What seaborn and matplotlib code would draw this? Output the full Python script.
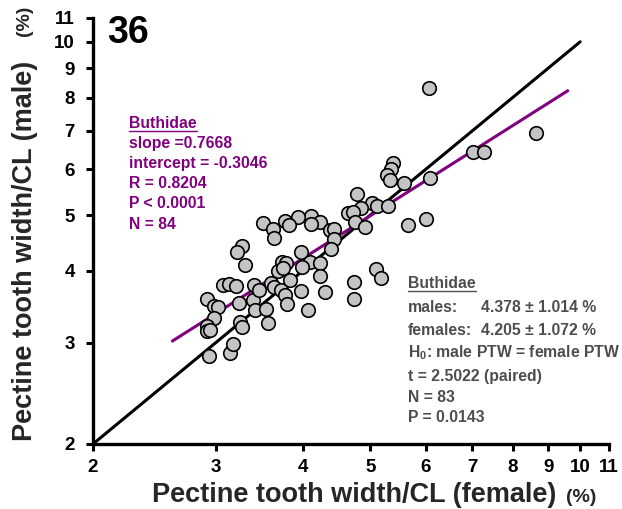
import numpy as np
import pandas as pd
import seaborn as sns
import matplotlib
matplotlib.use("Agg")
import matplotlib.pyplot as plt
from matplotlib.lines import Line2D

# Pectine tooth width / carapace length (%), one pair per specimen
female_ptw = [6.07, 8.64, 7.02, 7.28, 5.38, 5.35, 5.29, 5.33, 5.58, 6.08,
              4.79, 5.02, 5.11, 5.30, 4.84, 4.65, 4.72, 4.75, 4.91, 5.66,
              6.00, 4.11, 4.24, 4.11, 4.37, 4.44, 4.44, 4.39, 3.94, 3.51,
              3.63, 3.64, 3.77, 3.82, 3.27, 3.22, 3.98, 3.73, 3.78, 4.09,
              3.99, 4.24, 4.23, 3.98, 4.31, 4.07, 4.74, 4.74, 5.10, 5.18,
              2.91, 2.98, 3.02, 2.98, 2.91, 2.91, 2.94, 2.93, 3.14, 3.18,
              3.25, 3.27, 3.24, 3.07, 3.13, 3.21, 3.30, 3.40, 3.39, 3.46,
              3.41, 3.54, 3.57, 3.60, 3.64, 3.69, 3.75, 3.72, 3.77, 3.80,
              3.84]
male_ptw = [8.32, 6.93, 6.43, 6.43, 6.16, 6.02, 5.86, 5.75, 5.68, 5.81,
            5.44, 5.25, 5.19, 5.19, 5.15, 5.04, 5.06, 4.87, 4.77, 4.80,
            4.92, 4.98, 4.86, 4.82, 4.70, 4.72, 4.55, 4.36, 4.96, 4.84,
            4.72, 4.56, 4.88, 4.81, 4.41, 4.32, 4.31, 4.15, 4.12, 4.14,
            4.06, 4.12, 3.91, 3.69, 3.68, 3.42, 3.83, 3.58, 4.03, 3.88,
            3.57, 3.48, 3.46, 3.31, 3.21, 3.14, 3.15, 2.84, 2.88, 2.98,
            3.26, 3.20, 3.52, 3.78, 3.79, 3.77, 4.10, 3.78, 3.56, 3.70,
            3.42, 3.43, 3.24, 3.81, 3.75, 4.00, 4.04, 3.70, 3.63, 3.50,
            3.85]

tick_values = [2, 3, 4, 5, 6, 7, 8, 9, 10, 11]
tick_labels = ["2", "3", "4", "5", "6", "7", "8", "9", "10", "11"]

# reduced major axis fit on log10 of the proportions
slope = 0.7668
intercept = -0.3046
fit_range = [2.6, 9.6]
identity_range = [2, 10]

regression_lines = ["Buthidae", "slope =0.7668", "intercept = -0.3046",
                    "R = 0.8204", "P < 0.0001", "N = 84"]
ttest_title = "Buthidae"
ttest_groups = ["males:", "females:"]
ttest_means = ["4.378 \u00b1 1.014 %", "4.205 \u00b1 1.072 %"]
ttest_lines = [r"H$_\mathregular{0}$: male PTW = female PTW",
               "t = 2.5022 (paired)", "N = 83", "P = 0.0143"]

sns.set_theme(style="white")
plt.rcParams["font.family"] = ["Liberation Sans", "DejaVu Sans"]
plt.rcParams["mathtext.default"] = "regular"

W, H = 622, 509
fig = plt.figure(figsize=(W / 100, H / 100), dpi=100)
ax = fig.add_axes([93 / W, 1 - 444 / H, (609 - 93) / W, (444 - 18) / H])
ax.set_xscale("log")
ax.set_yscale("log")

purple = "#800080"
grey_text = "#4d4d4d"

df = pd.DataFrame({"female": female_ptw, "male": male_ptw})
fit_x = np.array(fit_range, dtype=float)
fit_y = 100 * 10 ** (slope * np.log10(fit_x / 100) + intercept)

sns.lineplot(x=identity_range, y=identity_range, color="black", lw=2.2,
             ax=ax, zorder=2)
sns.lineplot(x=fit_x, y=fit_y, color=purple, lw=2.2, ax=ax, zorder=2)
sns.scatterplot(data=df, x="female", y="male", s=95, color="#c4c4c4",
                edgecolor="black", linewidth=1.2, ax=ax, zorder=3,
                clip_on=False)

ax.set_xlim(2, 11)
ax.set_ylim(2, 11)
ax.minorticks_off()
ax.set_xticks(tick_values, tick_labels, fontweight="bold", fontsize=13.5)
ax.set_yticks(tick_values, tick_labels, fontweight="bold", fontsize=13.5)
ax.minorticks_off()
ax.tick_params(axis="both", which="major", direction="out", length=5,
               width=2.2, color="black", labelcolor="black", bottom=True,
               left=True)
ax.tick_params(axis="x", pad=6)
ax.tick_params(axis="y", pad=8)
ax.set_xlabel("")
ax.set_ylabel("")
sns.despine(ax=ax)
for side in ("left", "bottom"):
    ax.spines[side].set_linewidth(2.4)
    ax.spines[side].set_color("black")


def fx(px):
    return px / W


def fy(py):
    return 1 - py / H


# panel number
fig.text(fx(107), fy(43), "36", fontsize=27, fontweight="bold",
         color="black", va="baseline", ha="left")

# axis titles
fig.text(fx(152), fy(502), "Pectine tooth width/CL (female)", fontsize=19.5,
         fontweight="bold", va="baseline", ha="left")
fig.text(fx(566), fy(502), "(%)", fontsize=14, fontweight="bold",
         va="baseline", ha="left")
fig.text(fx(25), fy(441), "Pectine tooth width/CL (male)", fontsize=19.5,
         fontweight="bold", rotation=90, va="bottom", ha="center")
fig.text(fx(25), fy(6), "(%)", fontsize=14, fontweight="bold",
         rotation=90, va="top", ha="center")

# regression summary
reg_base = [128, 148, 168, 188, 208, 229]
reg_texts = []
for line, b in zip(regression_lines, reg_base):
    reg_texts.append(fig.text(fx(129), fy(b), line, fontsize=11.3,
                              fontweight="bold", color=purple,
                              va="baseline", ha="left"))

# paired t-test summary
tt_title = fig.text(fx(408), fy(288), ttest_title, fontsize=11.3,
                    fontweight="bold", color=grey_text, va="baseline",
                    ha="left")
for g, m, b in zip(ttest_groups, ttest_means, [312.5, 335]):
    fig.text(fx(408), fy(b), g, fontsize=11.3, fontweight="bold",
             color=grey_text, va="baseline", ha="left")
    fig.text(fx(481), fy(b), m, fontsize=11.3, fontweight="bold",
             color=grey_text, va="baseline", ha="left")
for line, b in zip(ttest_lines, [357, 380.5, 401.5, 421.5]):
    fig.text(fx(408), fy(b), line, fontsize=11.3, fontweight="bold",
             color=grey_text, va="baseline", ha="left")

# underline the family names
fig.canvas.draw()
renderer = fig.canvas.get_renderer()
for txt, base, col in [(reg_texts[0], 128, purple), (tt_title, 288, grey_text)]:
    bb = txt.get_window_extent(renderer).transformed(fig.transFigure.inverted())
    yline = fy(base + 2.5)
    fig.add_artist(Line2D([bb.x0, bb.x1], [yline, yline],
                          transform=fig.transFigure, color=col, lw=1.0))

fig.savefig("out.png", dpi=100)
